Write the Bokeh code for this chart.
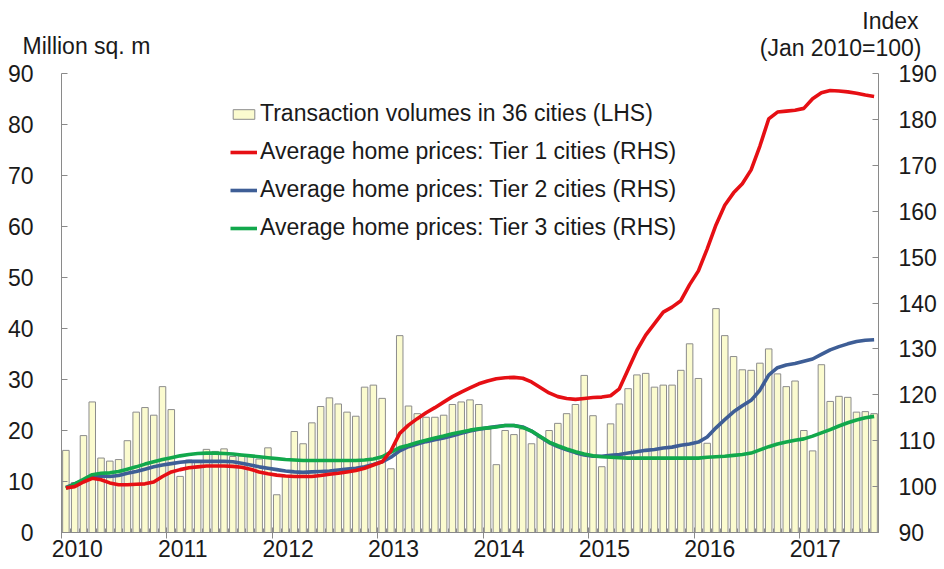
from bokeh.plotting import figure
from bokeh.models import (Range1d, LinearAxis, FixedTicker, Legend, LegendItem,
                          Label, ColumnDataSource)
from bokeh.embed import file_html
from bokeh.resources import INLINE

# ---------------- data ----------------
year_labels = ["2010", "2011", "2012", "2013", "2014", "2015", "2016", "2017"]
lhs_ticks = [0, 10, 20, 30, 40, 50, 60, 70, 80, 90]
rhs_ticks = [90, 100, 110, 120, 130, 140, 150, 160, 170, 180, 190]

# Transaction volumes in 36 cities, million sq. m (monthly, Jan 2010 - Sep 2017)
volumes = [
    16.1, 9.8, 19.0, 25.6, 14.6, 14.0, 14.3, 18.0, 23.6, 24.5, 23.0, 28.6,
    24.1, 11.0, 14.2, 14.1, 16.3, 15.9, 16.4, 14.9, 15.0, 14.9, 14.4, 16.6,
    7.4, 11.0, 19.8, 17.4, 21.5, 24.7, 26.4, 25.2, 23.6, 22.8, 28.5, 28.9,
    26.3, 12.5, 38.6, 24.8, 23.3, 22.6, 22.6, 23.0, 25.1, 25.6, 26.0, 25.1,
    20.3, 13.3, 20.0, 19.2, 20.3, 17.4, 18.7, 20.0, 21.4, 23.3, 25.1, 30.8,
    22.9, 12.9, 21.3, 25.2, 28.2, 30.9, 31.2, 28.5, 28.9, 28.9, 31.8, 37.0,
    30.2, 17.5, 43.9, 38.6, 34.5, 31.9, 31.8, 33.2, 36.0, 31.1, 28.6, 29.7,
    20.0, 16.0, 32.9, 25.7, 26.7, 26.5, 23.6, 23.7, 23.3,
]

# Average home prices, index Jan 2010 = 100
tier1 = [
    99.7, 100.0, 101.0, 101.8, 101.5, 100.8, 100.4, 100.4, 100.5, 100.6, 101.0, 102.2,
    103.2, 103.7, 104.1, 104.3, 104.5, 104.5, 104.5, 104.4, 104.2, 103.8, 103.2, 102.8,
    102.5, 102.3, 102.2, 102.2, 102.2, 102.4, 102.7, 102.9, 103.2, 103.5, 104.0, 104.7,
    105.4, 107.8, 111.6, 113.4, 114.8, 116.1, 117.2, 118.4, 119.6, 120.6, 121.5, 122.4,
    123.0, 123.5, 123.7, 123.8, 123.6, 122.8, 121.6, 120.4, 119.6, 119.2, 119.0, 119.2,
    119.4, 119.5, 119.8, 121.3, 125.5, 129.7, 133.0, 135.5, 138.0, 139.1, 140.5, 144.0,
    147.0, 151.8, 157.0, 161.3, 164.0, 166.0, 169.0, 174.2, 180.1, 181.6, 181.8, 182.0,
    182.4, 184.5, 185.8, 186.3, 186.2, 186.0, 185.7, 185.3, 185.0,
]
tier2 = [
    99.8, 100.6, 101.3, 102.0, 102.3, 102.2, 102.4, 102.9, 103.3, 103.8, 104.3, 104.7,
    105.0, 105.3, 105.5, 105.5, 105.5, 105.5, 105.5, 105.4, 105.1, 104.7, 104.3, 104.0,
    103.7, 103.4, 103.2, 103.1, 103.2, 103.3, 103.4, 103.6, 103.8, 104.0, 104.3, 104.8,
    105.4, 106.4, 107.8, 108.7, 109.3, 109.8, 110.2, 110.6, 111.1, 111.6, 112.1, 112.5,
    112.8, 113.1, 113.3, 113.3, 113.0, 112.1, 110.8, 109.6, 108.7, 108.0, 107.4, 106.9,
    106.6, 106.6, 106.8, 107.0, 107.3, 107.6, 107.9, 108.1, 108.4, 108.6, 109.0, 109.3,
    109.7, 110.8, 112.8, 114.6, 116.3, 117.6, 118.8, 121.0, 124.3, 125.9, 126.5, 126.8,
    127.3, 127.8, 128.8, 129.8, 130.5, 131.1, 131.6, 131.9, 132.0,
]
tier3 = [
    99.6, 100.6, 101.6, 102.6, 102.9, 103.0, 103.3, 103.8, 104.3, 104.9, 105.4, 105.9,
    106.3, 106.7, 107.0, 107.2, 107.3, 107.3, 107.2, 107.1, 106.9, 106.7, 106.5, 106.3,
    106.1, 105.9, 105.8, 105.7, 105.7, 105.7, 105.7, 105.7, 105.7, 105.7, 105.8, 106.0,
    106.5, 107.5, 108.5, 109.0, 109.6, 110.1, 110.6, 111.0, 111.5, 111.9, 112.3, 112.6,
    112.8, 113.0, 113.3, 113.3, 112.9, 112.1, 110.9, 109.7, 108.9, 108.2, 107.6, 107.1,
    106.7, 106.5, 106.4, 106.3, 106.2, 106.2, 106.2, 106.2, 106.2, 106.2, 106.2, 106.2,
    106.2, 106.4, 106.5, 106.6, 106.8, 107.0, 107.3, 108.0, 108.7, 109.3, 109.7, 110.1,
    110.4, 111.0, 111.7, 112.4, 113.2, 113.9, 114.5, 115.0, 115.3,
]

legend_labels = [
    "Transaction volumes in 36 cities (LHS)",
    "Average home prices: Tier 1 cities (RHS)",
    "Average home prices: Tier 2 cities (RHS)",
    "Average home prices: Tier 3 cities (RHS)",
]
lhs_title = "Million sq. m"
rhs_title = ["Index", "(Jan 2010=100)"]

# ---------------- style ----------------
FONT = "Liberation Sans"
FS = "23px"
TXT = "#1a1a1a"
AX = "#8a8a8a"
RED = "#e60f14"
BLUE = "#3e5e96"
GREEN = "#12a84c"
BAR_FILL = "#fbfbcf"
BAR_LINE = "#8c8c8c"

W = 944
HEAD_H = 62
MAIN_H = 569 - HEAD_H

# ---------------- header with axis titles (separate root, full-width frame) ----
head = figure(width=W, height=HEAD_H, output_backend="svg", toolbar_location=None,
              x_range=Range1d(0, W), y_range=Range1d(0, HEAD_H),
              x_axis_location=None, y_axis_location=None, title=None,
              min_border_left=0, min_border_right=0, min_border_top=0,
              min_border_bottom=0)
head.outline_line_color = None
head.xgrid.visible = False
head.ygrid.visible = False
for txt, x, y, align in [(lhs_title, 22, 17, "left"),
                         (rhs_title[0], 918, 42, "right"),
                         (rhs_title[1], 921, 15, "right")]:
    head.add_layout(Label(x=x, y=y, x_units="screen", y_units="screen", text=txt,
                          text_font=FONT, text_font_size=FS, text_color=TXT,
                          text_align=align, text_baseline="middle"))

# ---------------- main chart ----------------
n = len(volumes)
src = ColumnDataSource(dict(
    m=[i + 0.5 for i in range(n)],
    vol=volumes, t1=tier1, t2=tier2, t3=tier3,
))

p = figure(width=W, height=MAIN_H, output_backend="svg", toolbar_location=None,
           x_range=Range1d(0, n), y_range=Range1d(0, 90),
           x_axis_location=None, y_axis_location=None, title=None,
           min_border_left=61, min_border_right=66, min_border_top=73 - HEAD_H,
           min_border_bottom=37)
p.outline_line_color = None
p.xgrid.visible = False
p.ygrid.visible = False

p.extra_y_ranges = {"rhs": Range1d(90, 190)}
p.extra_x_ranges = {"yrs": Range1d(2010 - 1.8 / 12, 2010 + (n - 1.8) / 12)}


def style_axis(ax):
    ax.axis_line_color = AX
    ax.major_tick_line_color = AX
    ax.minor_tick_line_color = AX
    ax.major_label_text_font = FONT
    ax.major_label_text_font_size = FS
    ax.major_label_text_color = TXT


yl = LinearAxis(ticker=FixedTicker(ticks=lhs_ticks))
style_axis(yl)
yl.major_tick_in = 6
yl.major_tick_out = 0
yl.minor_tick_line_color = None
yl.major_label_standoff = 28
p.add_layout(yl, "left")

yr = LinearAxis(y_range_name="rhs", ticker=FixedTicker(ticks=rhs_ticks))
style_axis(yr)
yr.major_tick_in = 6
yr.major_tick_out = 0
yr.minor_tick_line_color = None
yr.major_label_standoff = 20
p.add_layout(yr, "right")

# x axis: year boundary ticks + monthly minor ticks (no labels)
xa = LinearAxis(ticker=FixedTicker(ticks=[12 * k for k in range(len(year_labels))],
                                   minor_ticks=list(range(n + 1))))
style_axis(xa)
xa.major_tick_in = 5
xa.major_tick_out = 6
xa.minor_tick_in = 4
xa.minor_tick_out = 0
xa.major_label_text_font_size = "0px"
xa.major_label_text_color = None
xa.major_label_standoff = 0
p.add_layout(xa, "below")

# year labels, set just right of each year tick
xb = LinearAxis(x_range_name="yrs",
                ticker=FixedTicker(ticks=[int(y) for y in year_labels]),
                major_label_overrides={int(y): y for y in year_labels})
style_axis(xb)
xb.axis_line_color = None
xb.major_tick_line_color = None
xb.minor_tick_line_color = None
xb.major_tick_in = 0
xb.major_tick_out = 0
xb.major_label_standoff = 1
p.add_layout(xb, "below")

bars = p.vbar(x="m", top="vol", width=0.74, bottom=0, source=src,
              fill_color=BAR_FILL, line_color=BAR_LINE, line_width=1)
l2 = p.line("m", "t2", source=src, y_range_name="rhs", line_color=BLUE, line_width=3.6)
l3 = p.line("m", "t3", source=src, y_range_name="rhs", line_color=GREEN, line_width=3.6)
l1 = p.line("m", "t1", source=src, y_range_name="rhs", line_color=RED, line_width=3.6)

legend = Legend(items=[
    LegendItem(label=legend_labels[0], renderers=[bars]),
    LegendItem(label=legend_labels[1], renderers=[l1]),
    LegendItem(label=legend_labels[2], renderers=[l2]),
    LegendItem(label=legend_labels[3], renderers=[l3]),
], location=(169, 291))
legend.label_text_font = FONT
legend.label_text_font_size = FS
legend.label_text_color = TXT
legend.glyph_width = 27
legend.glyph_height = 12
legend.label_standoff = 3
legend.spacing = 11
legend.padding = 0
legend.margin = 0
legend.border_line_color = None
legend.background_fill_alpha = 0
p.add_layout(legend)

open("out.html", "w").write(file_html([head, p], INLINE))
